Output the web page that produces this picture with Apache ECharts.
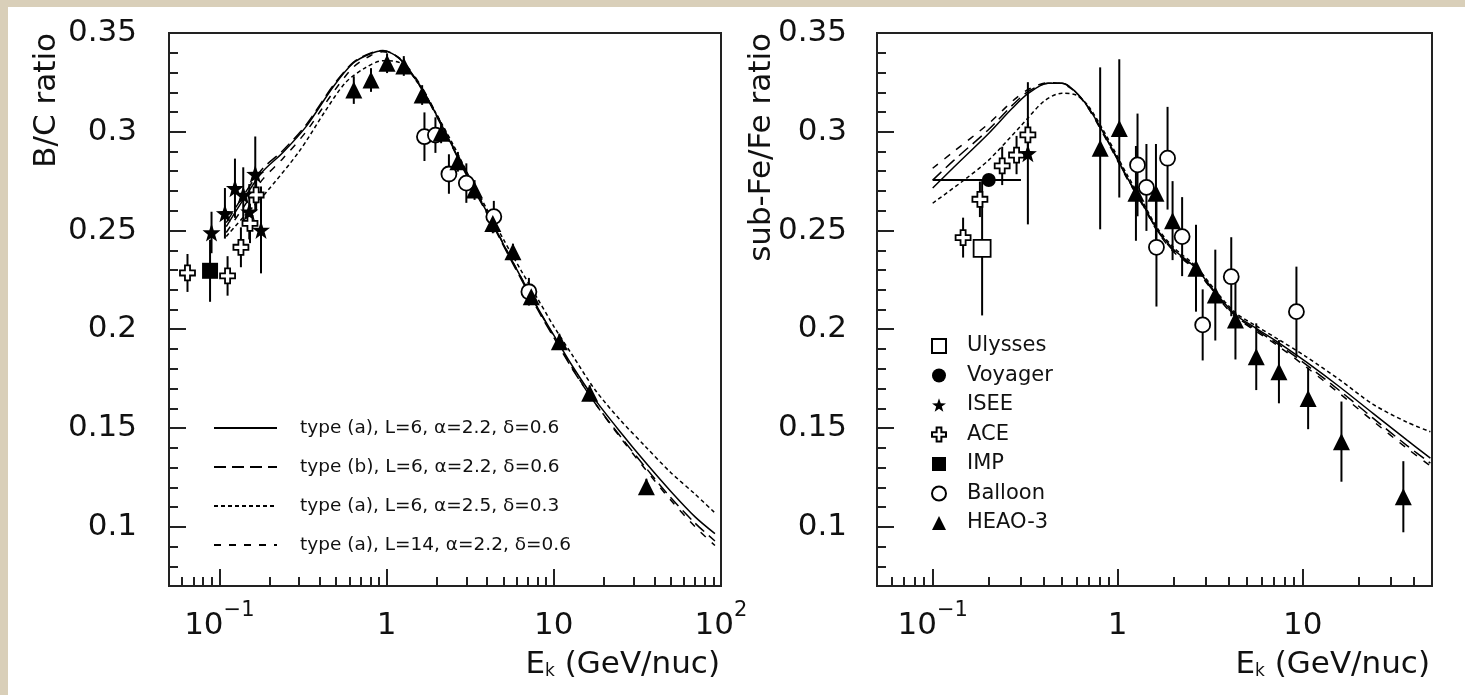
<!DOCTYPE html>
<html>
<head>
<meta charset="utf-8">
<title>B/C and sub-Fe/Fe ratio</title>
<script src="https://cdn.jsdelivr.net/npm/echarts@6/dist/echarts.min.js"></script>
<style>
  html, body { margin: 0; padding: 0; background: #d9cfb9; overflow: hidden; }
  #paper { position: absolute; left: 8px; top: 7px; width: 1457px; height: 688px; background: #fff; }
  #main { position: absolute; left: 0; top: 0; width: 1465px; height: 695px; }
</style>
</head>
<body>
<div id="paper"></div>
<div id="main"></div>
<script>
// ---- axis ticks ----
const xMajorL = [0.1, 1, 10, 100];
const xMajorR = [0.1, 1, 10];
const xTickLabels = ['{b|10}{s|−1}', '{b|1}', '{b|10}', '{b|10}{s|2}'];
const xMinor = [0.06, 0.07, 0.08, 0.09, 0.2, 0.3, 0.4, 0.5, 0.6, 0.7, 0.8, 0.9,
  2, 3, 4, 5, 6, 7, 8, 9, 20, 30, 40, 50, 60, 70, 80, 90];
const yMajor = [0.1, 0.15, 0.2, 0.25, 0.3, 0.35];
const yTickLabels = ['0.1', '0.15', '0.2', '0.25', '0.3', '0.35'];
const yMinor = [0.08, 0.09, 0.11, 0.12, 0.13, 0.14, 0.16, 0.17, 0.18, 0.19, 0.21, 0.22,
  0.23, 0.24, 0.26, 0.27, 0.28, 0.29, 0.31, 0.32, 0.33, 0.34];

// ---- model curve names ----
const curveNames = [
  'type (a), L=6, α=2.2, δ=0.6',
  'type (b), L=6, α=2.2, δ=0.6',
  'type (a), L=6, α=2.5, δ=0.3',
  'type (a), L=14, α=2.2, δ=0.6'
];
const expNames = ['Ulysses', 'Voyager', 'ISEE', 'ACE', 'IMP', 'Balloon', 'HEAO-3'];

// ---- B/C ratio (left) : [E, value] ----
const bcSolidA = [[0.11,0.252],[0.14,0.266],[0.18,0.2795],[0.24,0.2895],[0.33,0.3026],[0.48,0.3228],[0.63,0.3347],[0.8,0.3395],[0.95,0.341],[1.2,0.337],[1.6,0.323],[2.0,0.308],[2.5,0.292],[3.2,0.274],[4.0,0.259],[5.0,0.243],[6.3,0.227],[8.0,0.211],[10,0.197],[13,0.181],[17.6,0.1645],[25,0.148],[35,0.133],[50,0.118],[70,0.105],[92,0.0965]];
const bcTypeB = [[0.11,0.254],[0.14,0.268],[0.18,0.281],[0.24,0.2905],[0.33,0.3035],[0.48,0.3235],[0.63,0.335],[0.8,0.3398],[0.95,0.3412],[1.2,0.3368],[1.6,0.3225],[2.0,0.3075],[2.5,0.2915],[3.2,0.2735],[4.0,0.2583],[5.0,0.2423],[6.3,0.2262],[8.0,0.21],[10,0.1958],[13,0.1795],[17.6,0.1628],[25,0.1458],[35,0.1305],[50,0.1148],[70,0.1018],[92,0.0928]];
const bcSteep = [[0.11,0.247],[0.14,0.257],[0.185,0.268],[0.3,0.29],[0.43,0.3105],[0.57,0.325],[0.75,0.3325],[0.95,0.336],[1.2,0.335],[1.6,0.3225],[2.0,0.3085],[2.5,0.2935],[3.2,0.2755],[4.0,0.2605],[5.0,0.2455],[6.3,0.2305],[8.0,0.2155],[10,0.2015],[13,0.1865],[17.6,0.1695],[25,0.154],[35,0.141],[50,0.1275],[70,0.1165],[92,0.107]];
const bcHalo14 = [[0.11,0.249],[0.14,0.262],[0.18,0.2755],[0.24,0.2865],[0.33,0.3],[0.48,0.32],[0.63,0.3325],[0.8,0.3385],[0.95,0.3405],[1.2,0.3372],[1.6,0.3235],[2.0,0.3085],[2.5,0.2925],[3.2,0.2745],[4.0,0.2592],[5.0,0.2432],[6.3,0.227],[8.0,0.2108],[10,0.1965],[13,0.18],[17.6,0.1627],[25,0.1452],[35,0.1295],[50,0.1135],[70,0.1],[92,0.0905]];

// measurements : [E, value, error]
const bcISEE = [[0.0898,0.249,0.0105],[0.108,0.2587,0.0128],[0.124,0.2714,0.015],[0.139,0.268,0.014],[0.151,0.2595,0.014],[0.164,0.2786,0.019],[0.1775,0.2503,0.022]];
const bcACE = [[0.0645,0.2285,0.0096],[0.112,0.227,0.01],[0.1346,0.2415,0.0101],[0.1525,0.2536,0.01],[0.166,0.268,0.008]];
const bcIMP = [[0.088,0.2296,0.0157]];
const bcBalloon = [[1.685,0.2975,0.0123],[1.96,0.2983,0.009],[2.36,0.2786,0.01],[3.0,0.274,0.01],[4.38,0.257,0.008],[7.1,0.219,0.007]];
const bcHEAO = [[0.637,0.3211,0.007],[0.807,0.3262,0.006],[1.007,0.3347,0.005],[1.268,0.3333,0.005],[1.632,0.3186,0.005],[2.12,0.2992,0.005],[2.67,0.2848,0.005],[3.36,0.2705,0.005],[4.32,0.2536,0.005],[5.7,0.2393,0.004],[7.33,0.2165,0.004],[10.8,0.1937,0.004],[16.4,0.1676,0.004],[35.8,0.1203,0.004]];

// ---- sub-Fe/Fe ratio (right) ----
const feSolidA = [[0.1,0.2715],[0.13,0.282],[0.2,0.299],[0.27,0.312],[0.33,0.3195],[0.42,0.3245],[0.5,0.3245],[0.58,0.321],[0.69,0.3127],[0.88,0.2958],[1.12,0.2772],[1.33,0.2654],[1.64,0.2503],[2.0,0.2405],[2.65,0.2309],[3.4,0.2182],[4.35,0.2072],[5.6,0.2005],[7.5,0.1929],[10.4,0.1836],[15.8,0.1709],[24,0.1574],[36.5,0.144],[49,0.1347]];
const feTypeB = [[0.1,0.2755],[0.13,0.2855],[0.2,0.301],[0.27,0.3135],[0.33,0.3205],[0.42,0.3245],[0.5,0.3245],[0.58,0.321],[0.69,0.3125],[0.88,0.2955],[1.12,0.277],[1.33,0.265],[1.64,0.25],[2.0,0.2398],[2.65,0.2305],[3.4,0.2177],[4.35,0.2066],[5.6,0.1997],[7.5,0.1919],[10.4,0.1822],[15.8,0.169],[24,0.155],[36.5,0.1412],[49,0.1322]];
const feSteep = [[0.1,0.2638],[0.15,0.276],[0.2,0.2855],[0.3,0.303],[0.4,0.3155],[0.5,0.3195],[0.6,0.3185],[0.7,0.3125],[0.88,0.297],[1.12,0.2785],[1.33,0.2665],[1.64,0.2512],[2.0,0.2415],[2.65,0.2318],[3.4,0.2192],[4.35,0.2082],[5.6,0.2017],[7.5,0.1945],[10.4,0.1862],[15.8,0.1745],[24,0.162],[36.5,0.153],[49,0.1481]];
const feHalo14 = [[0.1,0.2815],[0.13,0.29],[0.2,0.304],[0.27,0.3155],[0.33,0.3215],[0.42,0.3248],[0.5,0.3243],[0.58,0.3208],[0.69,0.3122],[0.88,0.295],[1.12,0.2765],[1.33,0.2646],[1.64,0.2496],[2.0,0.2392],[2.65,0.23],[3.4,0.2172],[4.35,0.206],[5.6,0.199],[7.5,0.191],[10.4,0.181],[15.8,0.1675],[24,0.1535],[36.5,0.1398],[49,0.1308]];

const feUlysses = [[0.185,0.241,0.034]];
const feVoyager = [[0.201,0.2756,0.002]];
const feVoyagerRange = [0.1, 0.3];
const feISEE = [[0.327,0.2891,0.036]];
const feACE = [[0.146,0.2464,0.0101],[0.18,0.2658,0.009],[0.2375,0.2827,0.0097],[0.284,0.2882,0.0097],[0.327,0.2984,0.006]];
const feBalloon = [[1.28,0.2832,0.026],[1.43,0.2718,0.022],[1.62,0.2415,0.03],[1.86,0.2866,0.026],[2.23,0.2469,0.02],[2.88,0.2022,0.018],[4.11,0.2266,0.02],[9.25,0.2089,0.0228]];
const feHEAO = [[0.804,0.2916,0.041],[1.02,0.3017,0.035],[1.255,0.2688,0.024],[1.61,0.2688,0.025],[1.98,0.255,0.02],[2.65,0.2309,0.022],[3.37,0.2173,0.023],[4.33,0.2047,0.02],[5.61,0.1861,0.0169],[7.44,0.1785,0.016],[10.7,0.165,0.0156],[16.2,0.1431,0.0203],[35,0.1152,0.018]];

const FONT = 'DejaVu Sans';
const INK = '#111';
const dashes = ['solid', [12, 6], [4, 3], [7, 8]];

const STAR = 'path://M0,-10L2.35,-3.24L9.51,-3.09L3.8,1.24L5.88,8.09L0,4L-5.88,8.09L-3.8,1.24L-9.51,-3.09L-2.35,-3.24Z';
const CROSS = 'path://M-2.2,-6.5H2.2V-2.2H6.5V2.2H2.2V6.5H-2.2V2.2H-6.5V-2.2H-2.2Z';

function curve(name, data, k, xi, yi) {
  return {
    type: 'line', name: name, data: data, xAxisIndex: xi, yAxisIndex: yi,
    symbol: 'none', smooth: 0.3, silent: true, z: 2,
    lineStyle: { color: '#000', width: 1.5, type: dashes[k] }
  };
}

function errBars(data, xi, yi, xRange) {
  return {
    type: 'custom', data: data, xAxisIndex: xi, yAxisIndex: yi,
    encode: { x: 0, y: 1 }, silent: true, z: 3,
    renderItem: function (params, api) {
      const x = api.value(0), y = api.value(1), e = api.value(2);
      const lo = api.coord([x, y - e]);
      const hi = api.coord([x, y + e]);
      const kids = [{
        type: 'line',
        shape: { x1: lo[0], y1: lo[1], x2: hi[0], y2: hi[1] },
        style: { stroke: '#000', lineWidth: 2 }
      }];
      if (xRange) {
        const a = api.coord([xRange[0], y]);
        const b = api.coord([xRange[1], y]);
        kids.push({
          type: 'line',
          shape: { x1: a[0], y1: a[1], x2: b[0], y2: b[1] },
          style: { stroke: '#000', lineWidth: 2 }
        });
      }
      return { type: 'group', children: kids };
    }
  };
}

function points(name, data, symbol, size, filled, xi, yi) {
  return {
    type: 'scatter', name: name, xAxisIndex: xi, yAxisIndex: yi,
    data: data.map(function (d) { return [d[0], d[1]]; }),
    symbol: symbol, symbolSize: size, silent: true, z: 4,
    itemStyle: {
      color: filled ? '#000' : '#fff',
      borderColor: '#000',
      borderWidth: filled ? 0 : 1.8,
      opacity: 1
    }
  };
}

function xLabel(v) {
  let best = 0;
  xMajorL.forEach(function (t, i) {
    if (Math.abs(Math.log10(t) - Math.log10(v)) < Math.abs(Math.log10(xMajorL[best]) - Math.log10(v))) best = i;
  });
  return xTickLabels[best];
}

function yLabel(v) {
  let best = 0;
  yMajor.forEach(function (t, i) {
    if (Math.abs(t - v) < Math.abs(yMajor[best] - v)) best = i;
  });
  return yTickLabels[best];
}

const lineCol = { color: '#222', width: 2 };

function xMain(gi, max, majors) {
  return {
    type: 'log', logBase: 10, gridIndex: gi, min: 0.05, max: max, position: 'bottom',
    axisLine: { show: true, lineStyle: lineCol },
    axisTick: { show: true, inside: true, length: 17, customValues: majors, lineStyle: lineCol },
    axisLabel: {
      customValues: majors, margin: 14, formatter: xLabel,
      rich: {
        b: { fontFamily: FONT, fontSize: 31, color: INK, lineHeight: 52 },
        s: { fontFamily: FONT, fontSize: 21, color: INK, lineHeight: 52, verticalAlign: 'top' }
      }
    },
    splitLine: { show: false }, minorTick: { show: false }, minorSplitLine: { show: false }
  };
}
function xMinorAxis(gi, max) {
  return {
    type: 'log', logBase: 10, gridIndex: gi, min: 0.05, max: max, position: 'bottom',
    axisLine: { show: false },
    axisTick: { show: true, inside: true, length: 9, customValues: xMinor, lineStyle: lineCol },
    axisLabel: { show: false }, splitLine: { show: false }
  };
}
function yMain(gi, margin) {
  return {
    type: 'value', gridIndex: gi, min: 0.07, max: 0.35, position: 'left',
    axisLine: { show: true, lineStyle: lineCol },
    axisTick: { show: true, inside: true, length: 17, customValues: yMajor, lineStyle: lineCol },
    axisLabel: {
      customValues: yMajor, margin: margin, formatter: yLabel,
      fontFamily: FONT, fontSize: 31, color: INK
    },
    splitLine: { show: false }
  };
}
function yMinorAxis(gi) {
  return {
    type: 'value', gridIndex: gi, min: 0.07, max: 0.35, position: 'left',
    axisLine: { show: false },
    axisTick: { show: true, inside: true, length: 9, customValues: yMinor, lineStyle: lineCol },
    axisLabel: { show: false }, splitLine: { show: false }
  };
}

const chart = echarts.init(document.getElementById('main'), null, { renderer: 'canvas' });

const series = [
  // left panel
  curve(curveNames[0], bcSolidA, 0, 0, 0),
  curve(curveNames[1], bcTypeB, 1, 0, 0),
  curve(curveNames[2], bcSteep, 2, 0, 0),
  curve(curveNames[3], bcHalo14, 3, 0, 0),
  errBars(bcISEE, 0, 0), errBars(bcACE, 0, 0), errBars(bcIMP, 0, 0),
  errBars(bcBalloon, 0, 0), errBars(bcHEAO, 0, 0),
  points('IMP', bcIMP, 'rect', 16, true, 0, 0),
  points('ACE', bcACE, CROSS, 15, false, 0, 0),
  points('ISEE', bcISEE, STAR, 18, true, 0, 0),
  points('Balloon', bcBalloon, 'circle', 15, false, 0, 0),
  points('HEAO-3', bcHEAO, 'triangle', 17, true, 0, 0),
  // right panel
  curve(curveNames[0], feSolidA, 0, 2, 2),
  curve(curveNames[1], feTypeB, 1, 2, 2),
  curve(curveNames[2], feSteep, 2, 2, 2),
  curve(curveNames[3], feHalo14, 3, 2, 2),
  errBars(feUlysses, 2, 2), errBars(feVoyager, 2, 2, feVoyagerRange),
  errBars(feISEE, 2, 2), errBars(feACE, 2, 2),
  errBars(feBalloon, 2, 2), errBars(feHEAO, 2, 2),
  points('Ulysses', feUlysses, 'rect', 17, false, 2, 2),
  points('Voyager', feVoyager, 'circle', 14, true, 2, 2),
  points('ACE', feACE, CROSS, 15, false, 2, 2),
  points('ISEE', feISEE, STAR, 18, true, 2, 2),
  points('Balloon', feBalloon, 'circle', 15, false, 2, 2),
  points('HEAO-3', feHEAO, 'triangle', 17, true, 2, 2)
];

chart.setOption({
  animation: false,
  backgroundColor: 'transparent',
  textStyle: { fontFamily: FONT },
  grid: [
    { left: 169, top: 33, width: 552, height: 553, show: true, borderColor: '#222', borderWidth: 2,
      backgroundColor: '#fff', containLabel: false, outerBoundsMode: 'none' },
    { left: 877, top: 33, width: 555, height: 553, show: true, borderColor: '#222', borderWidth: 2,
      backgroundColor: '#fff', containLabel: false, outerBoundsMode: 'none' }
  ],
  xAxis: [xMain(0, 100, xMajorL), xMinorAxis(0, 100), xMain(1, 50, xMajorR), xMinorAxis(1, 50)],
  yAxis: [yMain(0, 32), yMinorAxis(0), yMain(1, 30), yMinorAxis(1)],
  legend: [
    {
      orient: 'vertical', left: 208, top: 413, itemWidth: 63, itemHeight: 14, itemGap: 19,
      selectedMode: false, data: curveNames,
      itemStyle: { opacity: 0 },
      textStyle: { fontFamily: FONT, fontSize: 18.5, color: INK, lineHeight: 20, padding: [0, 0, 0, 18] }
    },
    {
      orient: 'vertical', left: 926, top: 330, itemWidth: 14, itemHeight: 14, itemGap: 7.5,
      selectedMode: false, data: expNames,
      textStyle: { fontFamily: FONT, fontSize: 21, color: INK, lineHeight: 22, padding: [0, 0, 0, 16] }
    }
  ],
  graphic: [
    { type: 'text', x: 47, y: 33, rotation: Math.PI / 2, silent: true,
      style: { text: 'B/C ratio', font: '31px "DejaVu Sans"', fill: INK, textAlign: 'right', textVerticalAlign: 'middle' } },
    { type: 'text', x: 762, y: 33, rotation: Math.PI / 2, silent: true,
      style: { text: 'sub-Fe/Fe ratio', font: '31px "DejaVu Sans"', fill: INK, textAlign: 'right', textVerticalAlign: 'middle' } },
    { type: 'text', x: 720, y: 665, silent: true,
      style: { text: 'E{k|k} (GeV/nuc)', font: '31px "DejaVu Sans"', fill: INK, textAlign: 'right', textVerticalAlign: 'middle',
        rich: { k: { fontSize: 17, fontFamily: FONT, fill: INK, verticalAlign: 'bottom' } } } },
    { type: 'text', x: 1430, y: 665, silent: true,
      style: { text: 'E{k|k} (GeV/nuc)', font: '31px "DejaVu Sans"', fill: INK, textAlign: 'right', textVerticalAlign: 'middle',
        rich: { k: { fontSize: 17, fontFamily: FONT, fill: INK, verticalAlign: 'bottom' } } } }
  ],
  series: series
});
</script>
</body>
</html>
